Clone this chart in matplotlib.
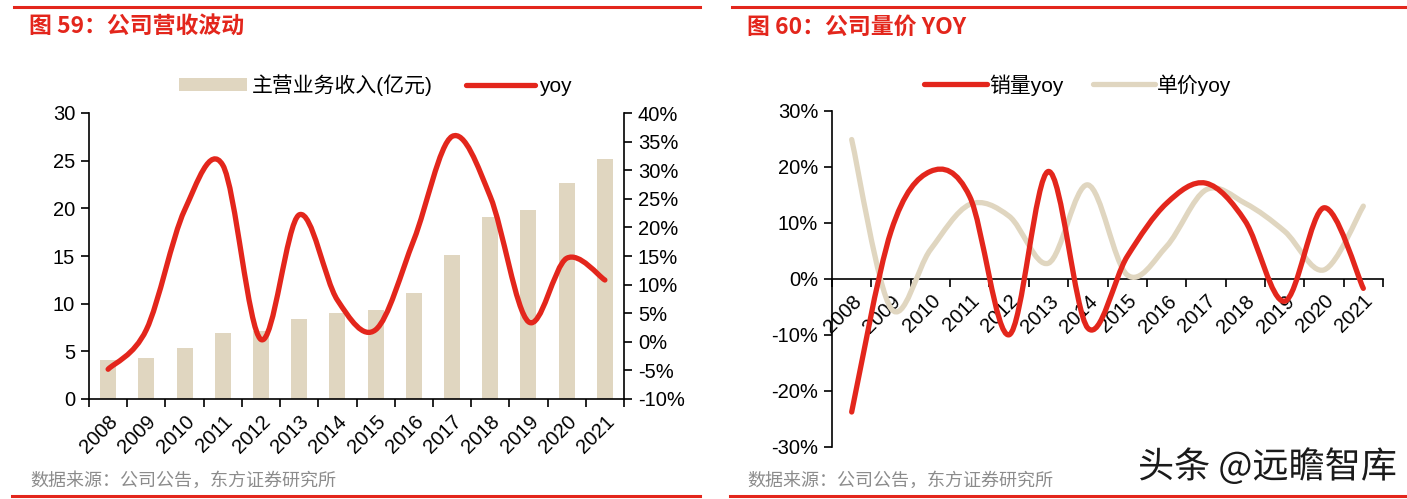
import numpy as np
import matplotlib
matplotlib.use("Agg")
import matplotlib.pyplot as plt
from matplotlib.path import Path
from matplotlib.patches import PathPatch, Patch
from matplotlib.lines import Line2D
import matplotlib.patheffects as pe

plt.rcParams["font.family"] = ["Liberation Sans", "Noto Sans CJK SC", "DejaVu Sans"]

years = ["2008", "2009", "2010", "2011", "2012", "2013", "2014",
         "2015", "2016", "2017", "2018", "2019", "2020", "2021"]

# Figure 59: revenue (100m yuan) and yoy (%)
revenue = [4.1, 4.3, 5.3, 6.9, 7.1, 8.4, 9.05, 9.3, 11.15, 15.1, 19.1, 19.8, 22.7, 25.15]
revenue_yoy = [-4.8, 2.1, 23.0, 30.9, 0.4, 22.2, 7.3, 2.1, 17.8, 35.9, 25.4, 3.5, 14.6, 10.8]

# Figure 60: volume yoy and unit price yoy (%)
volume_yoy = [-23.8, 8.5, 19.2, 14.7, -10.0, 19.2, -8.8, 4.0, 13.5, 17.1, 10.3, -4.0, 12.7, -1.7]
price_yoy = [24.9, -5.3, 5.2, 13.3, 11.2, 2.8, 16.8, 0.7, 5.8, 15.9, 13.5, 8.5, 1.6, 13.0]

RED = "#e3261c"
BEIGE = "#e0d6c0"
CJK = ["Noto Sans CJK SC", "DejaVu Sans"]
MIXED = ["Liberation Sans", "Noto Sans CJK SC"]
TICK_SIZE = 14.5


def smooth_path(x, y):
    """Excel-style smoothed line as cubic Bezier segments through the points."""
    x = np.asarray(x, dtype=float)
    y = np.asarray(y, dtype=float)
    pts = np.column_stack([x, y])
    n = len(pts)
    verts = [pts[0]]
    codes = [Path.MOVETO]
    for i in range(n - 1):
        p0 = pts[i - 1] if i > 0 else pts[i]
        p1 = pts[i]
        p2 = pts[i + 1]
        p3 = pts[i + 2] if i + 2 < n else pts[i + 1]
        c1 = p1 + (p2 - p0) / 6.0
        c2 = p2 - (p3 - p1) / 6.0
        verts += [c1, c2, p2]
        codes += [Path.CURVE4] * 3
    return Path(verts, codes)


def add_smooth(ax, x, y, color, lw):
    patch = PathPatch(smooth_path(x, y), facecolor="none", edgecolor=color,
                      linewidth=lw, capstyle="round", joinstyle="round", zorder=3)
    ax.add_patch(patch)


def category_axis(ax, n):
    ax.set_xlim(-0.5, n - 0.5)
    ax.set_xticks(np.arange(-0.5, n, 1.0))
    ax.set_xticklabels([])
    ax.set_xticks(np.arange(n), minor=True)
    ax.set_xticklabels(years, minor=True, rotation=45, ha="right", va="top",
                       rotation_mode="anchor", fontsize=TICK_SIZE)
    ax.tick_params(axis="x", which="minor", length=0, pad=9)
    ax.tick_params(axis="x", which="major", length=6, width=1.2, direction="out")
    ax.tick_params(axis="y", length=6, width=1.2, direction="out",
                   labelsize=TICK_SIZE, pad=4)


fig = plt.figure(figsize=(14.07, 4.99), dpi=100)

# frame lines, titles, sources
fig.add_artist(Line2D([14 / 1407, 700 / 1407], [1 - 7 / 499] * 2, color=RED, lw=2.2))
fig.add_artist(Line2D([732 / 1407, 1.0], [1 - 7 / 499] * 2, color=RED, lw=2.2))
fig.add_artist(Line2D([12 / 1407, 700 / 1407], [1 - 496 / 499] * 2, color=RED, lw=2.2))
fig.add_artist(Line2D([730 / 1407, 1.0], [1 - 496 / 499] * 2, color=RED, lw=2.2))

fig.text(29 / 1407, 1 - 27 / 499, "图 59：公司营收波动", color=RED, fontsize=16.5,
         fontweight="bold", family=CJK, va="center")
fig.text(747 / 1407, 1 - 27 / 499, "图 60：公司量价 YOY", color=RED, fontsize=16.5,
         fontweight="bold", family=CJK, va="center")
fig.text(30 / 1407, 1 - 481 / 499, "数据来源：公司公告，东方证券研究所", color="#8c8c8c",
         fontsize=13, family=CJK, va="center")
fig.text(747 / 1407, 1 - 481 / 499, "数据来源：公司公告，东方证券研究所", color="#8c8c8c",
         fontsize=13, family=CJK, va="center")
fig.text(1397 / 1407, 1 - 467 / 499, "头条 @远瞻智库", color="#1a1a1a", fontsize=26,
         family=CJK, ha="right", va="center",
         path_effects=[pe.withStroke(linewidth=3, foreground="white")])

# ---------------- left chart ----------------
xs = np.arange(len(years))
ax1 = fig.add_axes([89 / 1407, 1 - 399 / 499, 535 / 1407, 286 / 499])
ax1.bar(xs, revenue, width=0.42, color=BEIGE, zorder=2)
category_axis(ax1, len(years))
ax1.set_ylim(0, 30)
ax1.set_yticks(np.arange(0, 31, 5))
for s in ["top", "right"]:
    ax1.spines[s].set_visible(False)
for s in ["left", "bottom"]:
    ax1.spines[s].set_linewidth(1.2)

ax1r = ax1.twinx()
ax1r.set_ylim(-10, 40)
ax1r.set_yticks(np.arange(-10, 41, 5))
ax1r.set_yticklabels([f"{v}%" for v in range(-10, 41, 5)])
ax1r.tick_params(axis="y", length=6, width=1.2, direction="out",
                 labelsize=TICK_SIZE, pad=4)
for s in ["top", "left", "bottom"]:
    ax1r.spines[s].set_visible(False)
ax1r.spines["right"].set_linewidth(1.2)
add_smooth(ax1r, xs, revenue_yoy, RED, 3.8)

fig.legend(handles=[Patch(facecolor=BEIGE, edgecolor="none"),
                    Line2D([], [], color=RED, lw=3.8, solid_capstyle="round")],
           labels=["主营业务收入(亿元)", "yoy"], loc="center",
           bbox_to_anchor=(375 / 1407, 1 - 85 / 499), ncol=2, frameon=False,
           prop={"family": MIXED, "size": 15}, handlelength=3.3, handleheight=0.55,
           columnspacing=1.6, handletextpad=0.2)

# ---------------- right chart ----------------
ax2 = fig.add_axes([832 / 1407, 1 - 446.7 / 499, 551 / 1407, 335.7 / 499])
ax2.spines["bottom"].set_position(("data", 0))
category_axis(ax2, len(years))
ax2.set_ylim(-30, 30)
ax2.set_yticks(np.arange(-30, 31, 10))
ax2.set_yticklabels([f"{v}%" for v in range(-30, 31, 10)])
for s in ["top", "right"]:
    ax2.spines[s].set_visible(False)
for s in ["left", "bottom"]:
    ax2.spines[s].set_linewidth(1.2)
add_smooth(ax2, xs, price_yoy, BEIGE, 3.8)
add_smooth(ax2, xs, volume_yoy, RED, 3.8)

fig.legend(handles=[Line2D([], [], color=RED, lw=3.8, solid_capstyle="round"),
                    Line2D([], [], color=BEIGE, lw=3.8, solid_capstyle="round")],
           labels=["销量yoy", "单价yoy"], loc="center",
           bbox_to_anchor=(1078 / 1407, 1 - 85 / 499), ncol=2, frameon=False,
           prop={"family": MIXED, "size": 15}, handlelength=3.0,
           columnspacing=1.4, handletextpad=0.1)

fig.savefig("out.png", dpi=100)
